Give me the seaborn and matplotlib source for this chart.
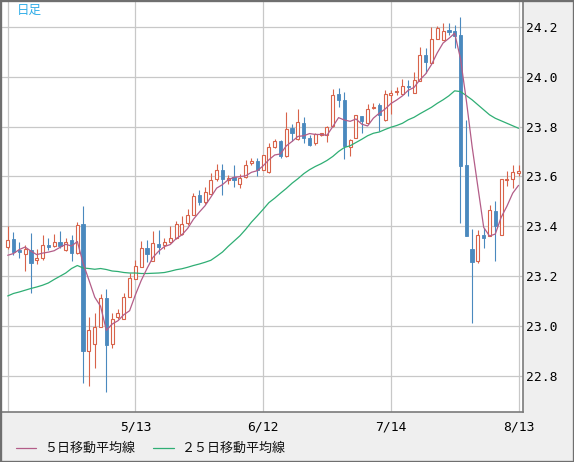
import matplotlib
matplotlib.use("Agg")
import numpy as np
import pandas as pd
import seaborn as sns
import matplotlib.pyplot as plt
from matplotlib.lines import Line2D
from matplotlib.patches import Rectangle

# ---- data ----
opens = [23.317, 23.351, 23.304, 23.291, 23.307, 23.267, 23.275, 23.324, 23.323, 23.339,
         23.307, 23.344, 23.295, 23.408, 22.901, 22.927, 22.997, 23.111, 22.927, 23.035,
         23.027, 23.117, 23.189, 23.237, 23.315, 23.261, 23.331, 23.324, 23.337, 23.355,
         23.371, 23.415, 23.447, 23.524, 23.497, 23.531, 23.591, 23.627, 23.587, 23.597,
         23.571, 23.597, 23.652, 23.662, 23.627, 23.616, 23.717, 23.740, 23.680, 23.793,
         23.749, 23.813, 23.753, 23.733, 23.767, 23.767, 23.803, 23.931, 23.907, 23.717,
         23.753, 23.843, 23.813, 23.873, 23.885, 23.826, 23.927, 23.937, 23.931, 23.963,
         23.936, 23.984, 24.087, 24.056, 24.149, 24.147, 24.187, 24.183, 24.167, 23.647,
         23.311, 23.260, 23.365, 23.360, 23.463, 23.367, 23.584, 23.591, 23.613]
highs = [23.400, 23.376, 23.337, 23.324, 23.373, 23.308, 23.367, 23.355, 23.368, 23.380,
         23.355, 23.364, 23.417, 23.480, 23.035, 23.051, 23.127, 23.148, 23.051, 23.067,
         23.131, 23.213, 23.264, 23.341, 23.344, 23.380, 23.384, 23.355, 23.400, 23.421,
         23.440, 23.471, 23.533, 23.544, 23.557, 23.613, 23.648, 23.651, 23.604, 23.644,
         23.611, 23.667, 23.672, 23.672, 23.687, 23.733, 23.749, 23.747, 23.860, 23.811,
         23.869, 23.837, 23.767, 23.776, 23.776, 23.803, 23.949, 23.953, 23.940, 23.749,
         23.847, 23.843, 23.891, 23.896, 23.896, 23.945, 23.947, 23.957, 23.991, 23.987,
         24.020, 24.117, 24.113, 24.197, 24.203, 24.213, 24.213, 24.207, 24.237, 23.827,
         23.391, 23.387, 23.393, 23.487, 23.500, 23.589, 23.620, 23.647, 23.647]
lows = [23.311, 23.284, 23.275, 23.221, 23.133, 23.251, 23.267, 23.304, 23.317, 23.315,
        23.301, 23.260, 23.291, 22.773, 22.761, 22.833, 22.997, 22.736, 22.913, 23.027,
        23.027, 23.117, 23.189, 23.237, 23.257, 23.261, 23.288, 23.311, 23.333, 23.351,
        23.364, 23.404, 23.447, 23.484, 23.491, 23.531, 23.581, 23.527, 23.571, 23.557,
        23.553, 23.595, 23.645, 23.600, 23.624, 23.613, 23.713, 23.673, 23.677, 23.740,
        23.747, 23.733, 23.720, 23.727, 23.763, 23.736, 23.800, 23.880, 23.669, 23.680,
        23.753, 23.776, 23.811, 23.869, 23.784, 23.822, 23.851, 23.927, 23.931, 23.923,
        23.936, 23.984, 24.013, 24.056, 24.149, 24.147, 24.167, 24.113, 23.413, 23.363,
        23.013, 23.253, 23.313, 23.360, 23.260, 23.367, 23.563, 23.553, 23.600]
closes = [23.347, 23.297, 23.297, 23.311, 23.253, 23.275, 23.327, 23.317, 23.339, 23.320,
          23.337, 23.293, 23.407, 22.901, 22.984, 22.995, 23.111, 22.924, 23.028, 23.051,
          23.115, 23.191, 23.243, 23.315, 23.291, 23.335, 23.317, 23.337, 23.355, 23.408,
          23.411, 23.447, 23.521, 23.497, 23.537, 23.584, 23.627, 23.591, 23.595, 23.587,
          23.595, 23.644, 23.662, 23.627, 23.684, 23.717, 23.740, 23.683, 23.789, 23.773,
          23.817, 23.753, 23.727, 23.771, 23.773, 23.800, 23.927, 23.907, 23.723, 23.747,
          23.847, 23.823, 23.871, 23.880, 23.845, 23.930, 23.933, 23.943, 23.963, 23.957,
          23.987, 24.087, 24.060, 24.149, 24.193, 24.184, 24.180, 24.163, 23.640, 23.363,
          23.256, 23.365, 23.355, 23.467, 23.403, 23.589, 23.589, 23.617, 23.623]
ma5_head = [23.284, 23.291, 23.307, 23.317]
ma25 = [23.121, 23.131, 23.137, 23.144, 23.151, 23.157, 23.164, 23.173, 23.187, 23.200,
        23.213, 23.231, 23.243, 23.233, 23.231, 23.228, 23.231, 23.227, 23.221, 23.219,
        23.215, 23.213, 23.213, 23.211, 23.211, 23.212, 23.213, 23.215, 23.220, 23.226,
        23.230, 23.236, 23.243, 23.249, 23.256, 23.264, 23.280, 23.297, 23.320, 23.341,
        23.362, 23.388, 23.417, 23.442, 23.468, 23.495, 23.513, 23.533, 23.552, 23.573,
        23.591, 23.611, 23.627, 23.640, 23.651, 23.664, 23.680, 23.700, 23.716, 23.723,
        23.736, 23.749, 23.763, 23.773, 23.778, 23.788, 23.797, 23.804, 23.813, 23.827,
        23.837, 23.851, 23.864, 23.877, 23.893, 23.907, 23.923, 23.943, 23.940, 23.924,
        23.907, 23.887, 23.867, 23.847, 23.833, 23.823, 23.813, 23.803, 23.793]
x_tick_pos = [0, 22, 44, 66, 88]
x_tick_labels = ["", "5/13", "6/12", "7/14", "8/13"]
y_ticks = [22.8, 23.0, 23.2, 23.4, 23.6, 23.8, 24.0, 24.2]
legend_labels = ["５日移動平均線", "２５日移動平均線"]
title_text = "日足"

RED = "#d8634a"
BLUE = "#4a89be"
PURPLE = "#b35d88"
GREEN = "#2fae74"

df = pd.DataFrame({"open": opens, "high": highs, "low": lows, "close": closes, "ma25": ma25})
df["i"] = np.arange(len(df))
df["ma5"] = df["close"].rolling(5).mean()
df.loc[: len(ma5_head) - 1, "ma5"] = ma5_head

sns.set_theme(style="white")
plt.rcParams["font.family"] = ["DejaVu Sans Mono", "Noto Sans CJK JP"]

W, H = 574, 462
fig = plt.figure(figsize=(W / 100, H / 100), dpi=100, facecolor="#efefef")
ax = fig.add_axes([2 / W, 50 / H, 521 / W, 410 / H])
ax.set_facecolor("white")

up = df[df.close >= df.open]
dn = df[df.close < df.open]
ax.vlines(up.i, up.low, up.high, color=RED, lw=0.8, zorder=2)
ax.vlines(dn.i, dn.low, dn.high, color=BLUE, lw=0.8, zorder=2)
ax.bar(up.i, (up.close - up.open).clip(lower=0.002), bottom=up.open, width=0.52,
       facecolor="white", edgecolor=RED, linewidth=0.8, zorder=3)
ax.bar(dn.i, (dn.open - dn.close).clip(lower=0.002), bottom=dn.close, width=0.57,
       facecolor=BLUE, edgecolor=BLUE, linewidth=0.6, zorder=3)

sns.lineplot(data=df, x="i", y="ma25", ax=ax, color=GREEN, lw=0.9, zorder=4)
sns.lineplot(data=df, x="i", y="ma5", ax=ax, color=PURPLE, lw=0.9, zorder=5)

ax.set_xlim(-0.98, 88.77)
ax.set_ylim(22.656, 24.299)
ax.set_xlabel("")
ax.set_ylabel("")
ax.set_xticks(x_tick_pos)
ax.set_xticklabels(x_tick_labels)
ax.set_yticks(y_ticks)
ax.set_yticklabels([f"{v:.1f}" for v in y_ticks])
ax.yaxis.tick_right()
ax.tick_params(axis="y", length=0, pad=2, labelsize=9.4, labelcolor="black")
ax.tick_params(axis="x", length=0, pad=6, labelsize=9.4, labelcolor="black")
ax.grid(True, color="#c8c8c8", lw=0.9, zorder=0)
ax.set_axisbelow(True)
for s in ["top", "left"]:
    ax.spines[s].set_visible(False)
for s in ["right", "bottom"]:
    ax.spines[s].set_color("#7a7a7a")
    ax.spines[s].set_linewidth(1.2)

fig.text(16.5 / W, 1 - 10.5 / H, title_text, color="#33aee8", fontsize=9,
         family=["Noto Sans CJK JP"], va="center", ha="left")

yl = 1 - 448 / H
fig.add_artist(Line2D([16 / W, 36 / W], [yl, yl], color=PURPLE, lw=0.9))
fig.text(44 / W, yl, legend_labels[0], fontsize=9.4, family=["Noto Sans CJK JP"],
         va="center", ha="left", color="#111111")
fig.add_artist(Line2D([153 / W, 174 / W], [yl, yl], color=GREEN, lw=0.9))
fig.text(182 / W, yl, legend_labels[1], fontsize=9.4, family=["Noto Sans CJK JP"],
         va="center", ha="left", color="#111111")

fig.add_artist(Rectangle((0, 0), 1, 1, transform=fig.transFigure, fill=False,
                         edgecolor="#6f6f6f", lw=2.4))

fig.savefig("out.png", dpi=100, facecolor=fig.get_facecolor())
